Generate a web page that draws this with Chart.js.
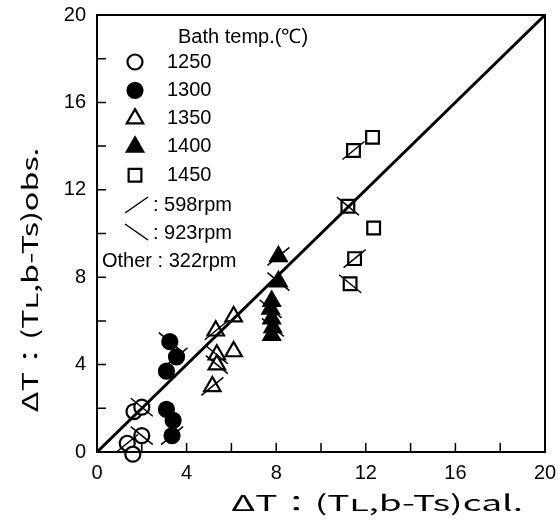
<!DOCTYPE html>
<html>
<head>
<meta charset="utf-8">
<script src="https://cdn.jsdelivr.net/npm/chart.js@4/dist/chart.umd.min.js"></script>
<style>
  body { margin: 0; background: #fff; }
  canvas { display: block; }
</style>
</head>
<body>
<canvas id="chart" width="558" height="524"></canvas>
<script>
// values; rpm: 598 -> "/", 923 -> "\", 322 -> no mark
const t1250X = [1.65, 2.0, 2.0, 1.35, 1.6];
const t1250Y = [1.85, 2.05, 0.75, 0.4, -0.1];
const t1250Rpm = [322, 923, 923, 598, 322];

const t1300X = [3.25, 3.55, 3.1, 3.1, 3.4, 3.35];
const t1300Y = [5.05, 4.35, 3.7, 1.95, 1.45, 0.75];
const t1300Rpm = [923, 598, 322, 322, 322, 598];

const t1350X = [6.1, 5.3, 6.1, 5.35, 5.35, 5.15];
const t1350Y = [6.2, 5.55, 4.6, 4.45, 4.0, 3.0];
const t1350Rpm = [322, 598, 322, 923, 923, 598];

const t1400X = [8.1, 8.1, 7.8, 7.75, 7.8, 7.85, 7.8];
const t1400Y = [8.95, 7.8, 6.9, 6.55, 6.1, 5.7, 5.35];
const t1400Rpm = [598, 923, 322, 923, 322, 923, 322];

const t1450X = [12.3, 11.45, 11.2, 12.35, 11.5, 11.3];
const t1450Y = [14.4, 13.8, 11.25, 10.25, 8.85, 7.7];
const t1450Rpm = [322, 598, 923, 322, 598, 923];

const lineX = [0, 20];
const lineY = [0, 20];

const axisMin = 0, axisMax = 20;
const minorStep = 2, labelStep = 4;

const narrow = '"Liberation Sans Narrow", "Liberation Sans", sans-serif';
const titleFont = '22px "Noto Sans CJK JP", "DejaVu Sans", sans-serif';
const legendFont = '20px ' + narrow;

function pts(xs, ys, rpm) {
  return xs.map((x, i) => ({ x: x, y: ys[i], rpm: rpm ? rpm[i] : null }));
}

function series(label, xs, ys, rpm, style, filled, radius) {
  return {
    label: label,
    type: 'scatter',
    data: pts(xs, ys, rpm),
    pointStyle: style,
    pointRadius: radius,
    pointBorderWidth: 2.2,
    pointBorderColor: '#000',
    pointBackgroundColor: filled ? '#000' : '#fff',
    clip: 14
  };
}

// text squeezed or stretched to the width it has in the picture
function fitText(ctx, text, x, y, width) {
  const w = ctx.measureText(text).width;
  ctx.save();
  ctx.translate(x, y);
  ctx.scale(width / w, 1);
  ctx.fillText(text, 0, 0);
  ctx.restore();
}

// slashes through points, ticks, frame, titles and the key
const decor = {
  id: 'decor',
  afterDatasetsDraw(chart) {
    const ctx = chart.ctx;
    ctx.save();
    ctx.strokeStyle = '#000';
    ctx.lineWidth = 1.5;
    chart.data.datasets.forEach((ds, di) => {
      const meta = chart.getDatasetMeta(di);
      ds.data.forEach((p, i) => {
        if (p.rpm !== 598 && p.rpm !== 923) return;
        const el = meta.data[i];
        const s = p.rpm === 598 ? 1 : -1;
        ctx.beginPath();
        ctx.moveTo(el.x - 11, el.y + 9 * s);
        ctx.lineTo(el.x + 11, el.y - 9 * s);
        ctx.stroke();
      });
    });
    ctx.restore();
  },
  afterDraw(chart) {
    const ctx = chart.ctx;
    const a = chart.chartArea;
    const xs = chart.scales.x, ys = chart.scales.y;
    ctx.save();
    ctx.strokeStyle = '#000';
    ctx.fillStyle = '#000';
    ctx.lineWidth = 2;
    ctx.strokeRect(a.left, a.top, a.right - a.left, a.bottom - a.top);
    ctx.lineWidth = 1.5;
    for (let v = axisMin + minorStep; v < axisMax; v += minorStep) {
      const px = xs.getPixelForValue(v);
      const py = ys.getPixelForValue(v);
      ctx.beginPath();
      ctx.moveTo(px, a.bottom); ctx.lineTo(px, a.bottom - 9);
      ctx.moveTo(a.left, py); ctx.lineTo(a.left + 9, py);
      ctx.stroke();
    }

    // axis titles
    ctx.font = titleFont;
    ctx.textAlign = 'center';
    ctx.textBaseline = 'middle';
    fitText(ctx, 'ΔT：(Tʟ,b-Ts)cal.', 377, 503, 292);
    ctx.save();
    ctx.translate(30, 280);
    ctx.rotate(-Math.PI / 2);
    fitText(ctx, 'ΔT：(Tʟ,b-Ts)obs.', 0, 0, 265);
    ctx.restore();

    // key
    ctx.font = legendFont;
    ctx.textAlign = 'left';
    ctx.fillText('Bath temp.(℃)', 178, 37);
    const keys = [
      ['1250', 'circle', false, 7.5],
      ['1300', 'circle', true, 7.5],
      ['1350', 'triangle', false, 9.5],
      ['1400', 'triangle', true, 9.5],
      ['1450', 'rect', false, 9]
    ];
    keys.forEach((k, i) => {
      const y = 62 + i * 28.3;
      ctx.lineWidth = 2.2;
      ctx.fillStyle = k[2] ? '#000' : '#fff';
      Chart.helpers.drawPoint(ctx, { pointStyle: k[1], radius: k[3], rotation: 0, borderWidth: 2.2 }, 135, y);
      ctx.fillStyle = '#000';
      ctx.fillText(k[0], 167, y);
    });
    ctx.lineWidth = 1.5;
    ctx.beginPath();
    ctx.moveTo(125, 213); ctx.lineTo(148, 197);
    ctx.moveTo(125, 224); ctx.lineTo(148, 240);
    ctx.stroke();
    ctx.fillText(': 598rpm', 153, 205);
    ctx.fillText(': 923rpm', 153, 233);
    ctx.fillText('Other : 322rpm', 102, 261);
    ctx.restore();
  }
};

new Chart(document.getElementById('chart'), {
  type: 'scatter',
  data: {
    datasets: [
      {
        type: 'line',
        data: pts(lineX, lineY),
        borderColor: '#000',
        borderWidth: 3,
        pointRadius: 0,
        fill: false
      },
      series('1250', t1250X, t1250Y, t1250Rpm, 'circle', false, 7.5),
      series('1300', t1300X, t1300Y, t1300Rpm, 'circle', true, 7.5),
      series('1350', t1350X, t1350Y, t1350Rpm, 'triangle', false, 9.5),
      series('1400', t1400X, t1400Y, t1400Rpm, 'triangle', true, 9.5),
      series('1450', t1450X, t1450Y, t1450Rpm, 'rect', false, 9)
    ]
  },
  options: {
    responsive: false,
    animation: false,
    layout: { padding: { left: 0, top: 14, right: 13, bottom: 0 } },
    plugins: { legend: { display: false }, tooltip: { enabled: false } },
    scales: {
      x: {
        type: 'linear',
        min: axisMin,
        max: axisMax,
        grid: { display: false },
        border: { display: false },
        afterFit(scale) { scale.height = 72; },
        ticks: {
          stepSize: labelStep,
          color: '#000',
          font: { family: narrow, size: 20 },
          padding: 1,
          maxRotation: 0
        }
      },
      y: {
        type: 'linear',
        min: axisMin,
        max: axisMax,
        grid: { display: false },
        border: { display: false },
        afterFit(scale) { scale.width = 97; },
        ticks: {
          stepSize: labelStep,
          color: '#000',
          font: { family: narrow, size: 20 },
          padding: 3
        }
      }
    }
  },
  plugins: [decor]
});
</script>
</body>
</html>
